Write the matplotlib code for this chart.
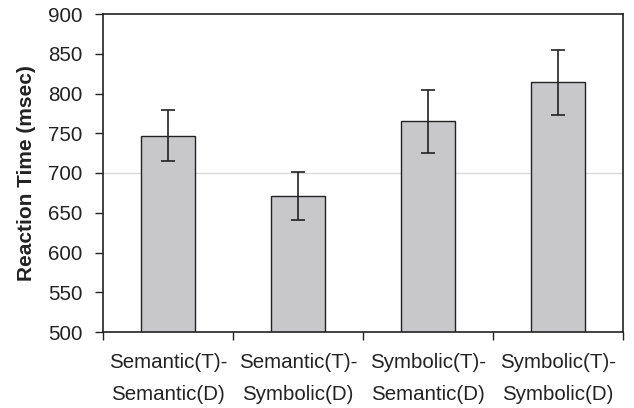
import matplotlib
matplotlib.use("Agg")
import matplotlib.pyplot as plt
import numpy as np

categories = ["Semantic(T)-\nSemantic(D)", "Semantic(T)-\nSymbolic(D)",
              "Symbolic(T)-\nSemantic(D)", "Symbolic(T)-\nSymbolic(D)"]
means = [747, 671, 765, 814]
errors = [32, 30, 40, 41]
yticks = [500, 550, 600, 650, 700, 750, 800, 850, 900]

plt.rcParams['font.family'] = ['Liberation Sans', 'DejaVu Sans']
fig = plt.figure(figsize=(6.34, 4.08), dpi=100)
ax = fig.add_axes([103/634, 1-332/408, 520/634, 318/408])

x = np.arange(len(categories))
ax.axhline(700, color='#d9d9d9', lw=1, zorder=0)
ax.bar(x, means, width=0.41, color='#c8c8ca', edgecolor='#222222', linewidth=1, zorder=2)
ax.errorbar(x, means, yerr=errors, fmt='none', ecolor='#222222', elinewidth=1.2,
            capsize=5, capthick=1.2, zorder=3)

ax.set_xlim(-0.5, len(categories) - 0.5)
ax.set_ylim(500, 900)
ax.set_yticks(yticks)
ax.set_yticklabels([str(v) for v in yticks], fontsize=14.8, color='#222222')
ax.set_xticks(x)
ax.set_xticklabels(categories, fontsize=14.8, color='#222222', linespacing=1.85)
ax.set_xticks(np.arange(-0.5, len(categories)), minor=True)
ax.tick_params(axis='x', which='major', length=0, pad=15)
ax.tick_params(axis='x', which='minor', length=6, width=1, direction='out', color='#222222')
ax.tick_params(axis='y', which='major', length=6, width=1, direction='out', color='#222222', pad=9)
for s in ax.spines.values():
    s.set_color('#222222')
    s.set_linewidth(1.2)
ax.set_ylabel('Reaction Time (msec)', fontsize=15, fontweight='bold', color='#222222')
ax.yaxis.set_label_coords(-0.128, 0.5)

fig.savefig('out.png', dpi=100)
